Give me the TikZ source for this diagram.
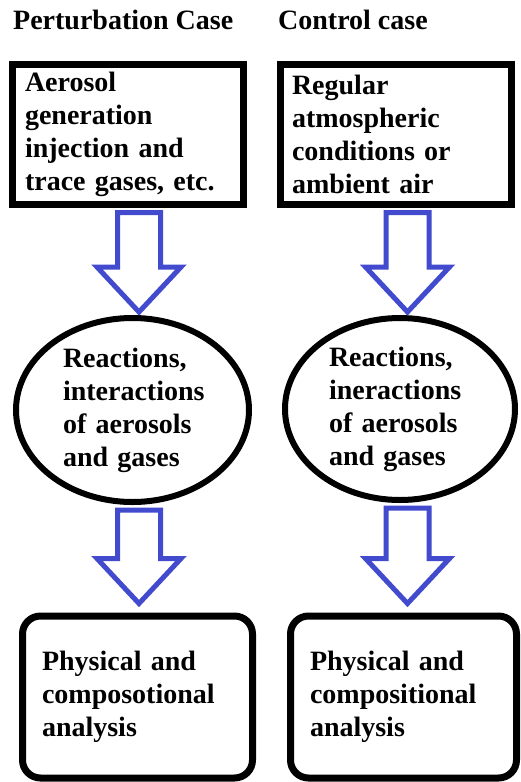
\documentclass[tikz,border=0pt]{standalone}
\usepackage{fontspec}
\setmainfont{Liberation Serif}
\usetikzlibrary{shapes.geometric, positioning, calc}
\definecolor{arrowblue}{RGB}{66, 74, 206}

\begin{document}
\begin{tikzpicture}[
    x=1pt, y=-1pt,
    every node/.style={font=\bfseries\fontsize{28}{33}\selectfont},
    source/.style={rectangle, draw=black, line width=7pt, minimum width=231pt, minimum height=140pt, inner sep=0pt, align=left},
    reaction/.style={ellipse, draw=black, line width=6pt, inner sep=0pt, align=left},
    analysis/.style={rectangle, rounded corners=18pt, draw=black, line width=7pt, minimum height=162pt, inner sep=0pt, align=left},
    blockarrow/.style={draw=arrowblue, line width=5pt, fill=white, line join=miter}
]
\useasboundingbox (0,0) rectangle (520,782);

% titles
\node[anchor=base west, inner sep=0pt] (pert_title) at (13,29) {Perturbation Case};
\node[anchor=base west, inner sep=0pt] (ctrl_title) at (278,29) {Control case};

% sources
\node[source, text width=205pt] (pert_source) at (127.5,134) {Aerosol\\generation\\injection and\\trace gases, etc.};
\node[source, text width=208pt] (ctrl_source) at (396,134) {Regular\\atmospheric\\conditions or\\ambient air};

% reactions
\node[reaction, minimum width=233pt, minimum height=184pt, text width=139pt] (pert_react) at (132.5,410) {Reactions,\\interactions\\of aerosols\\and gases};
\node[reaction, minimum width=230pt, minimum height=182pt, text width=142pt] (ctrl_react) at (400,409) {Reactions,\\ineractions\\of aerosols\\and gases};

% analysis
\node[analysis, minimum width=230pt, text width=191pt] (pert_analysis) at (137.5,697) {Physical and\\composotional\\analysis};
\node[analysis, minimum width=226pt, text width=187pt] (ctrl_analysis) at (403.5,697) {Physical and\\compositional\\analysis};

% arrow columns
\coordinate (leftcol) at (139,0);
\coordinate (rightcol) at (407.5,0);

% block arrows
\foreach \a/\b/\c/\g in {pert_source/pert_react/leftcol/-3, pert_react/pert_analysis/leftcol/-9,
                         ctrl_source/ctrl_react/rightcol/-3, ctrl_react/ctrl_analysis/rightcol/-9} {
  \path ($(\a.south -| \c)+(0,5)$) coordinate (top) ($(\b.north -| \c)+(0,\g)$) coordinate (tip);
  \draw[blockarrow] ($(top)+(-21.5,0)$) -- ($(top)+(21.5,0)$) -- ($(tip)+(21.5,-45)$) -- ($(tip)+(42,-45)$)
    -- (tip) -- ($(tip)+(-42,-45)$) -- ($(tip)+(-21.5,-45)$) -- cycle;
}

\end{tikzpicture}
\end{document}
